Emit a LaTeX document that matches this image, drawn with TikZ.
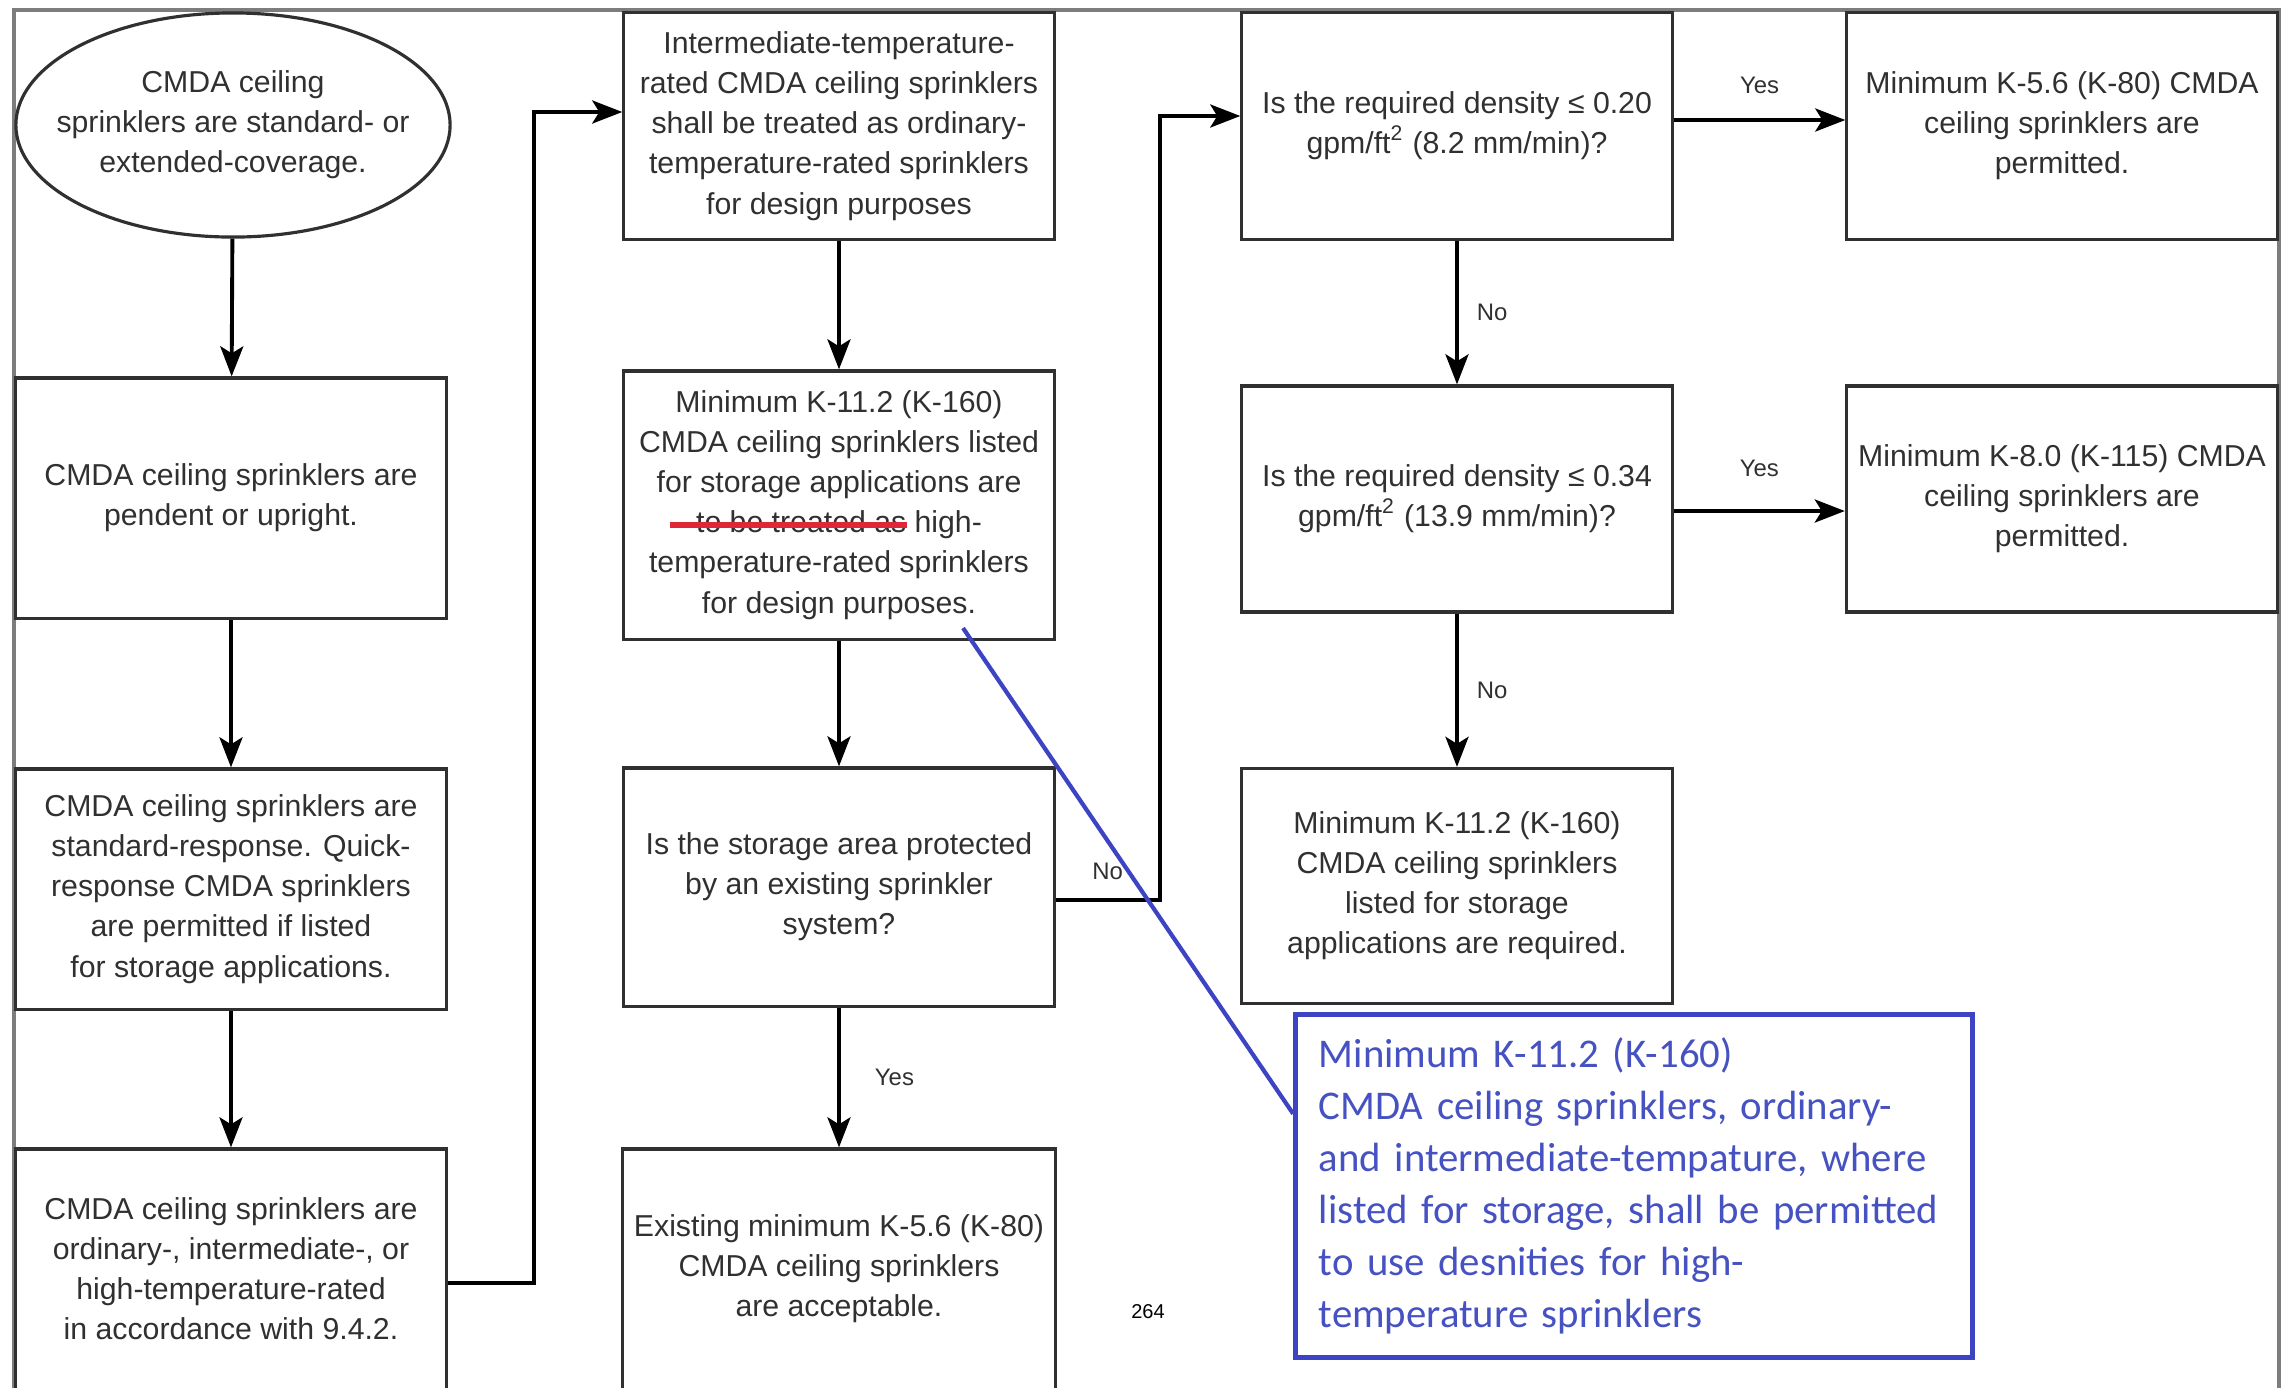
\documentclass[tikz,border=0pt]{standalone}
\usepackage{fontspec}
\setmainfont{Liberation Sans}
\newfontfamily\notefont{Carlito}
\usetikzlibrary{arrows.meta,shapes.geometric,calc}
\definecolor{inkgray}{RGB}{48,48,48}
\definecolor{rulegray}{RGB}{125,125,125}
\definecolor{noteblue}{RGB}{60,68,196}
\definecolor{notetext}{RGB}{70,82,194}
\definecolor{strikered}{RGB}{222,40,55}
\begin{document}
\begin{tikzpicture}[x=0.01cm,y=-0.01cm,
    flowbox/.style={draw=inkgray, line width=0.9pt, minimum width=4.3cm, align=center, text=inkgray, font=\fontsize{8.6}{11.4}\selectfont},
    arr/.style={-{Stealth[length=0.3cm,width=0.23cm,inset=0.07cm]}, line width=1.1pt},
    lbl/.style={inner sep=0pt, text=inkgray, font=\fontsize{6.8}{8}\selectfont}]
        \useasboundingbox (0,0) rectangle (2281,1387);
        \draw[rulegray, line width=1pt] (14,1400) |- (2279,10) -- (2279,1400);

        \node[flowbox, ellipse, inner xsep=-0.3cm, inner ysep=0.2cm, minimum width=4.34cm, minimum height=2.24cm] (ell) at (233,125)
        {CMDA ceiling\\sprinklers are standard- or\\extended-coverage.};
        \node[flowbox, minimum height=2.40cm] (a2) at (231,498)
        {CMDA ceiling sprinklers are\\pendent or upright.};
        \node[flowbox, minimum height=2.40cm] (a3) at (231,889)
        {CMDA ceiling sprinklers are\\standard-response. Quick-\\response CMDA sprinklers\\are permitted if listed\\for storage applications.};
        \node[flowbox, minimum height=2.40cm] (a4) at (231,1269)
        {CMDA ceiling sprinklers are\\ordinary-, intermediate-, or\\high-temperature-rated\\in accordance with 9.4.2.};

        \node[flowbox, minimum height=2.27cm] (b1) at (839,126)
        {Intermediate-temperature-\\rated CMDA ceiling sprinklers\\shall be treated as ordinary-\\temperature-rated sprinklers\\for design purposes};
        \node[flowbox, minimum height=2.68cm] (b2) at (839,505)
        {Minimum K-11.2 (K-160)\\CMDA ceiling sprinklers listed\\for storage applications are\\to be treated as high-\\temperature-rated sprinklers\\for design purposes.};
        \node[flowbox, minimum height=2.38cm] (b3) at (839,887)
        {Is the storage area protected\\by an existing sprinkler\\system?};
        \node[flowbox, minimum height=2.40cm] (b4) at (839,1269)
        {Existing minimum K-5.6 (K-80)\\CMDA ceiling sprinklers\\are acceptable.};

        \node[flowbox, minimum height=2.27cm] (c1) at (1457,126)
        {Is the required density ≤ 0.20\\gpm/ft\textsuperscript{2} (8.2 mm/min)?};
        \node[flowbox, minimum height=2.26cm] (c2) at (1457,499)
        {Is the required density ≤ 0.34\\gpm/ft\textsuperscript{2} (13.9 mm/min)?};
        \node[flowbox, minimum height=2.35cm] (c3) at (1457,886)
        {Minimum K-11.2 (K-160)\\CMDA ceiling sprinklers\\listed for storage\\applications are required.};

        \node[flowbox, minimum height=2.27cm] (d1) at (2062,126)
        {Minimum K-5.6 (K-80) CMDA\\ceiling sprinklers are\\permitted.};
        \node[flowbox, minimum height=2.26cm] (d2) at (2062,499)
        {Minimum K-8.0 (K-115) CMDA\\ceiling sprinklers are\\permitted.};

        \node[draw=noteblue, line width=1.5pt, text=notetext, align=left, inner xsep=0.23cm, text width=6.3cm, minimum height=3.43cm, font=\notefont\fontsize{11.6}{14.8}\selectfont] (note) at (1634,1186)
        {Minimum K-11.2 (K-160)\\CMDA ceiling sprinklers, ordinary-\\and intermediate-tempature, where\\listed for storage, shall be permitted\\to use desnities for high-\\temperature sprinklers};
        \node[font=\fontsize{5.7}{7}\selectfont] (page) at (1148,1312) {264};

        \draw[arr] (ell) -- (a2);
        \draw[arr] (a2) -- (a3);
        \draw[arr] (a3) -- (a4);
        \draw[arr] ([yshift=-0.14cm]a4.east) -- ++(86,0) |- ([yshift=0.14cm]b1.west);
        \draw[arr] (b1) -- (b2);
        \draw[arr] (b2) -- (b3);
        \draw[arr] (b3) -- node[lbl, right=0.34cm] {Yes} (b4);
        \draw[arr] ([yshift=-0.13cm]b3.east) -- node[lbl, above=0.18cm] {No} ++(104,0) |- ([yshift=0.10cm]c1.west);
        \draw[arr] ([yshift=0.06cm]c1.east) -- node[lbl, above=0.24cm] {Yes} ([yshift=0.06cm]d1.west);
        \draw[arr] (c1) -- node[lbl, right=0.18cm] {No} (c2);
        \draw[arr] ([yshift=-0.12cm]c2.east) -- node[lbl, above=0.32cm] {Yes} ([yshift=-0.12cm]d2.west);
        \draw[arr] (c2) -- node[lbl, right=0.18cm] {No} (c3);

        \draw[strikered, line width=1.7pt] ($(b2.center)+(-169,20)$) -- ++(237,0);
        \coordinate (mark) at (963,628);
        \draw[noteblue, line width=1.2pt] (mark) -- ($(note.north west)+(0,102)$);
\end{tikzpicture}
\end{document}
